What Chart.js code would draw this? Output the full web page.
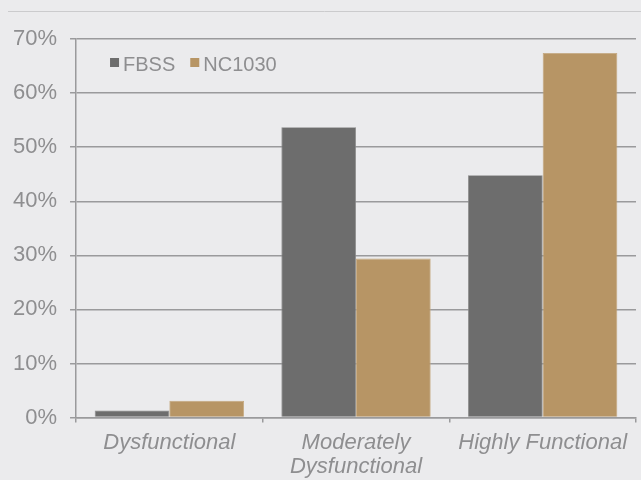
<!DOCTYPE html>
<html>
<head>
<meta charset="utf-8">
<script src="https://cdn.jsdelivr.net/npm/chart.js@4/dist/chart.umd.min.js"></script>
<style>
  html, body { margin: 0; padding: 0; background: #ebebed; }
  #wrap { width: 641px; height: 480px; }
</style>
</head>
<body>
<div id="wrap"><canvas id="c" width="641" height="480"></canvas></div>
<script>
// Share of patients per functional category
const categories = ['Dysfunctional', ['Moderately', 'Dysfunctional'], 'Highly Functional'];
const seriesNames = ['FBSS', 'NC1030'];
const fbssValues = [1.3, 53.7, 44.8];
const nc1030Values = [3.1, 29.4, 67.4];
const yTickValues = [0, 10, 20, 30, 40, 50, 60, 70];

const COLORS = ['#6d6d6d', '#b79565'];
const TEXT = '#8e8e90';
const FONT = '"Liberation Sans", Arial, Helvetica, sans-serif';

// Background, top rule and inset legend
const decor = {
  id: 'decor',
  beforeDraw(chart) {
    const ctx = chart.ctx;
    ctx.save();
    ctx.fillStyle = '#ebebed';
    ctx.fillRect(0, 0, chart.width, chart.height);
    ctx.strokeStyle = '#cbcbcd';
    ctx.lineWidth = 1;
    ctx.beginPath();
    ctx.moveTo(8, 11.5);
    ctx.lineTo(chart.width, 11.5);
    ctx.stroke();
    ctx.restore();
  },
  afterDraw(chart) {
    const ctx = chart.ctx;
    const a = chart.chartArea;
    ctx.save();
    ctx.font = '20px ' + FONT;
    ctx.textBaseline = 'middle';
    let x = a.left + 34;
    const y = a.top + 24;
    chart.data.datasets.forEach((ds) => {
      ctx.fillStyle = ds.backgroundColor;
      ctx.fillRect(x, y - 5, 9, 9);
      ctx.fillStyle = TEXT;
      ctx.fillText(ds.label, x + 13, y + 2);
      x += 13 + ctx.measureText(ds.label).width + 15;
    });
    ctx.restore();
  }
};

new Chart(document.getElementById('c'), {
  type: 'bar',
  data: {
    labels: categories,
    datasets: [
      { label: seriesNames[0], data: fbssValues, backgroundColor: COLORS[0], borderColor: '#8a8a8a', borderWidth: 0.8 },
      { label: seriesNames[1], data: nc1030Values, backgroundColor: COLORS[1], borderColor: '#c4a77d', borderWidth: 0.8 }
    ]
  },
  options: {
    responsive: false,
    devicePixelRatio: 1,
    animation: false,
    layout: { padding: { top: 39, right: 5, left: 0, bottom: -7 } },
    datasets: { bar: { categoryPercentage: 0.8, barPercentage: 1.0 } },
    plugins: { legend: { display: false }, tooltip: { enabled: false } },
    scales: {
      x: {
        grid: { display: true, drawOnChartArea: false, offset: true, color: '#9a9a9c', lineWidth: 1.5, tickLength: 5 },
        border: { display: true, color: '#9a9a9c', width: 1.5 },
        ticks: { color: TEXT, font: { family: FONT, size: 22, style: 'italic', lineHeight: 1.1 }, maxRotation: 0, autoSkip: false, padding: 8 }
      },
      y: {
        min: 0,
        max: 70,
        afterBuildTicks(scale) { scale.ticks = yTickValues.map(v => ({ value: v })); },
        grid: { color: '#9a9a9c', lineWidth: 1.5, tickLength: 6 },
        border: { display: true, color: '#9a9a9c', width: 1.5 },
        ticks: { color: TEXT, font: { family: FONT, size: 22 }, padding: 13, callback: v => v + '%' }
      }
    }
  },
  plugins: [decor]
});
</script>
</body>
</html>
